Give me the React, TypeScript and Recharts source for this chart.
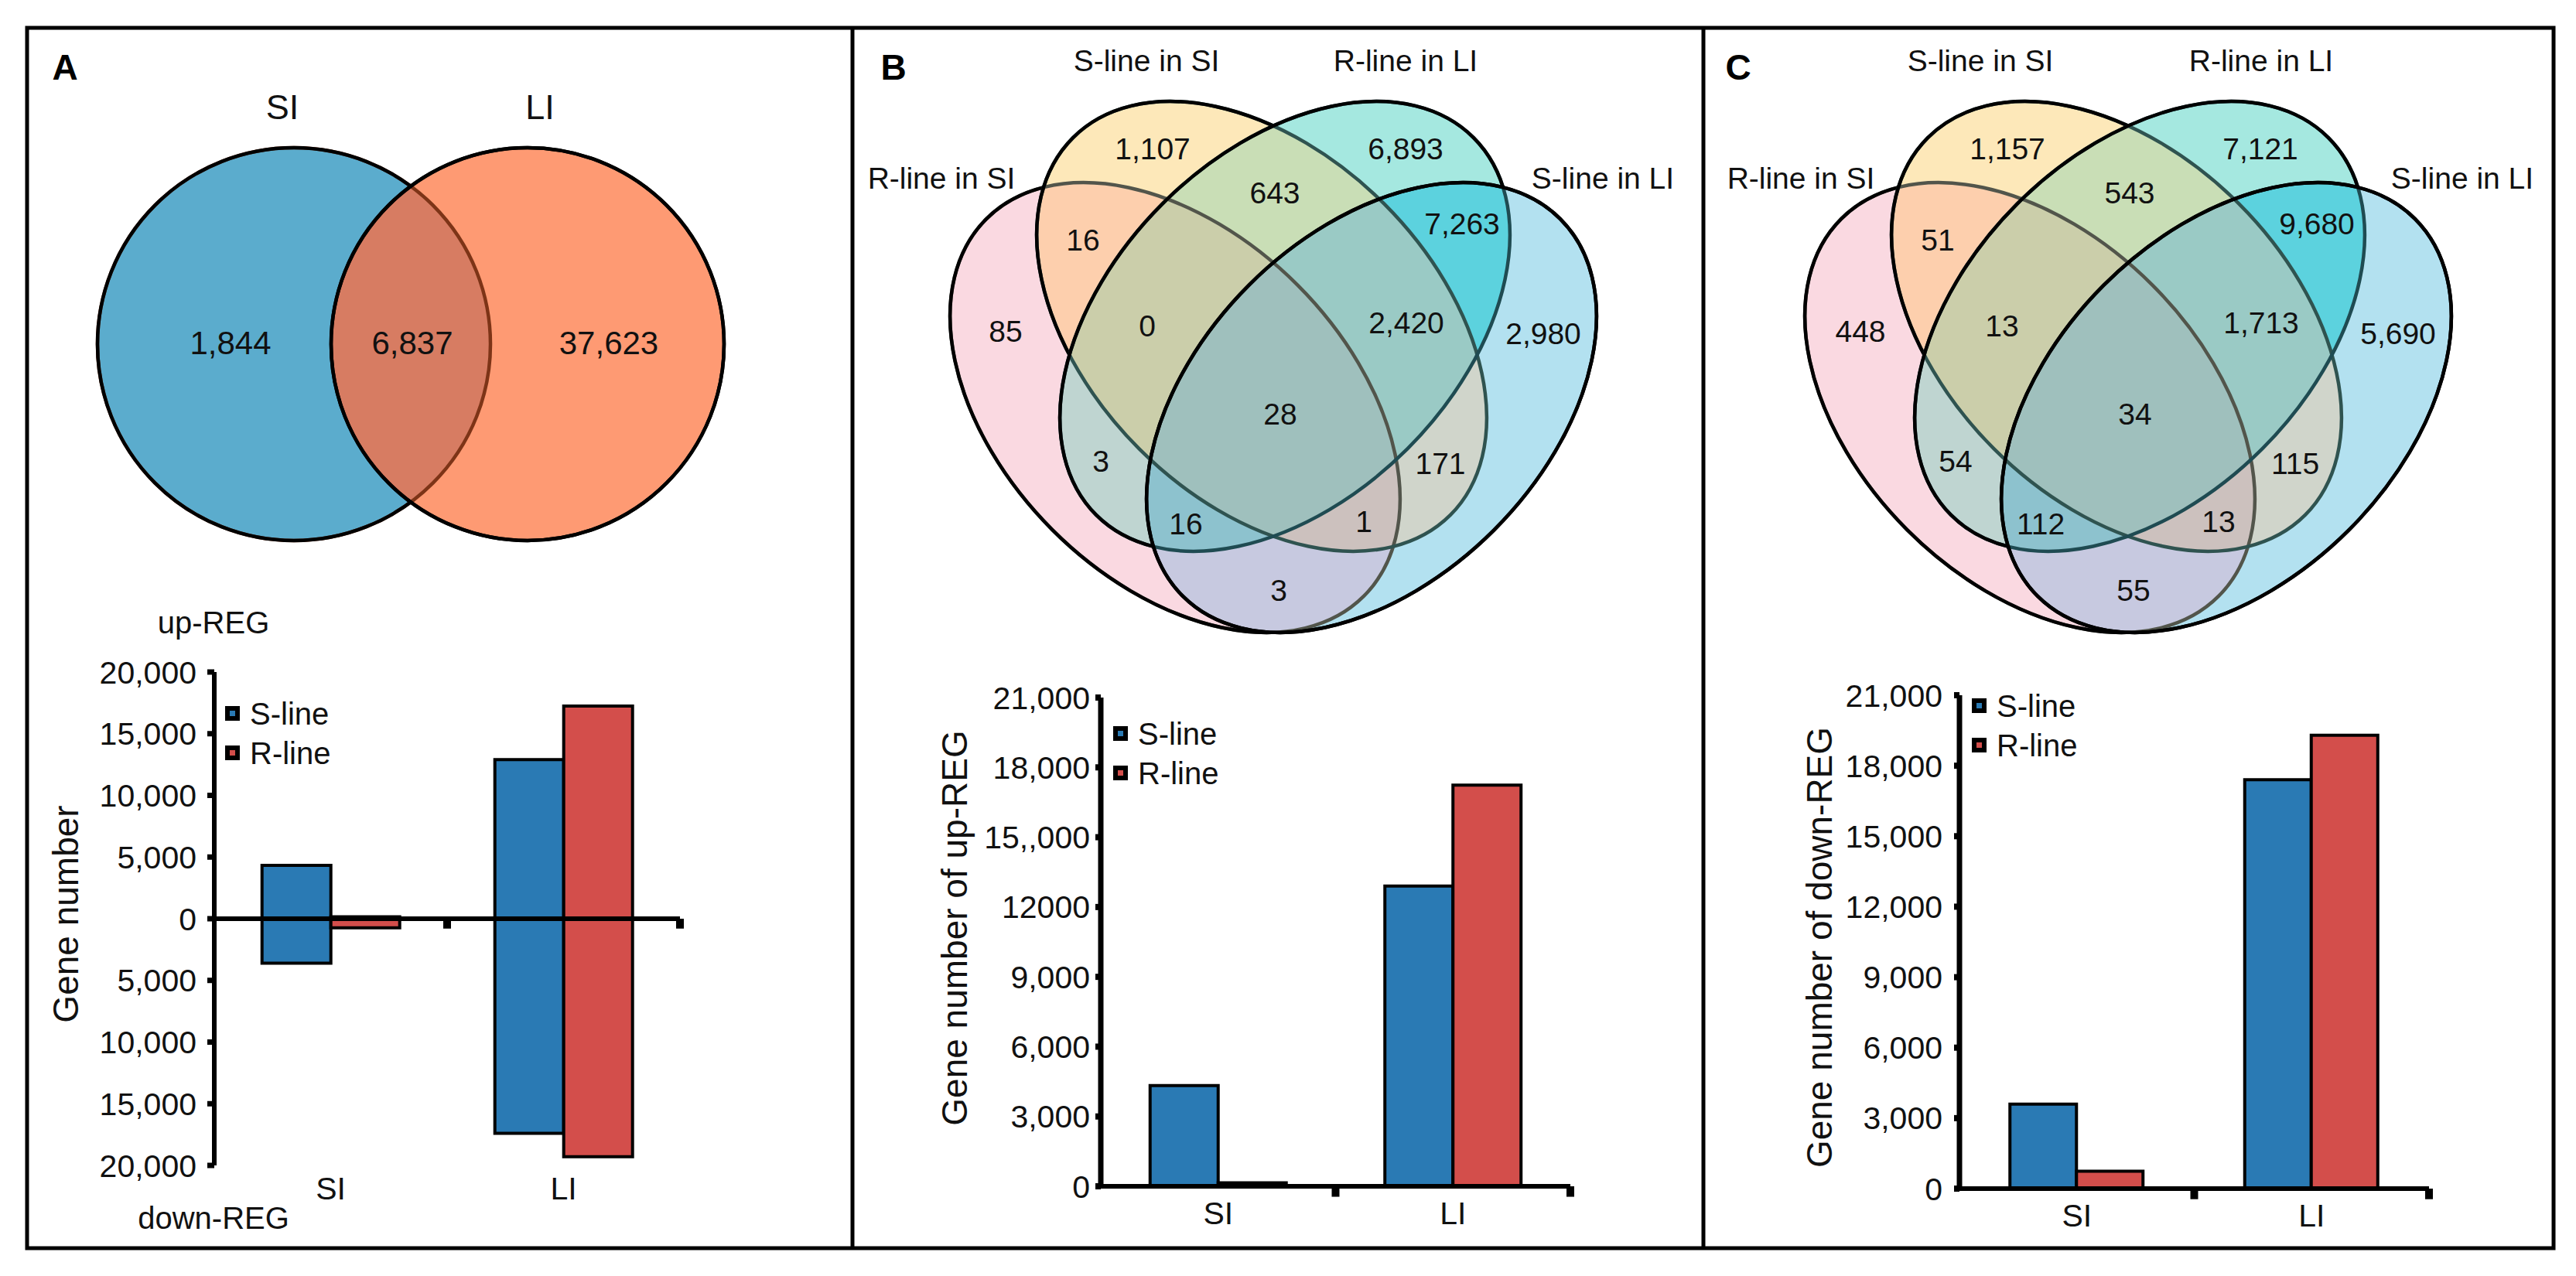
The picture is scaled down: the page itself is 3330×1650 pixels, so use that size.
import React from 'react';
import {
  BarChart,
  Bar,
  XAxis,
  YAxis,
  ReferenceLine,
  Legend,
  ScatterChart,
  Scatter,
} from 'recharts';

const FONT = "'Liberation Sans', Arial, Helvetica, sans-serif";
const INK = '#111';
const BLUE = '#2A7AB4';
const RED = '#D34E4B';

// ---- data ----
const CATEGORIES = ['SI', 'LI'];
const SERIES = ['S-line', 'R-line'];
const UP_S_LINE = [4330, 12900];
const UP_R_LINE = [150, 17240];
const DOWN_S_LINE = [3600, 17400];
const DOWN_R_LINE = [740, 19300];

const A_TICKS = [-20000, -15000, -10000, -5000, 0, 5000, 10000, 15000, 20000];
const BC_TICKS = [0, 3000, 6000, 9000, 12000, 15000, 18000, 21000];
// labels exactly as printed (including the typos of panel B)
const UP_TICK_LABELS = ['0', '3,000', '6,000', '9,000', '12000', '15,,000', '18,000', '21,000'];
const DOWN_TICK_LABELS = ['0', '3,000', '6,000', '9,000', '12,000', '15,000', '18,000', '21,000'];

const VENN2_SETS = ['SI', 'LI'];
// SI only, SI & LI, LI only
const VENN2_COUNTS = [1844, 6837, 37623];

const VENN4_SETS = ['R-line in SI', 'S-line in SI', 'R-line in LI', 'S-line in LI'];
// region order: R-SI only, S-SI only, R-LI only, S-LI only, RSI&SSI, SSI&RLI, RLI&SLI,
// RSI&SSI&RLI, SSI&RLI&SLI, all four, RSI&RLI, SSI&SLI, RSI&RLI&SLI, RSI&SSI&SLI, RSI&SLI
const VENN4_UP = [85, 1107, 6893, 2980, 16, 643, 7263, 0, 2420, 28, 3, 171, 16, 1, 3];
const VENN4_DOWN = [448, 1157, 7121, 5690, 51, 543, 9680, 13, 1713, 34, 54, 115, 112, 13, 55];

// ---- venn layout (chart units = pixels of the venn box) ----
const VENN2_W = 1065;
const VENN2_H = 740;
const VENN2_SHAPES = [
  { x: 345, y: 411, rx: 254, ry: 254, angle: 0, tint: '#7d3417' },
  { x: 647, y: 411, rx: 254, ry: 254, angle: 0, tint: '#000' },
];
const VENN2_REGIONS = [
  { sets: [0], color: '#5BACCD' },
  { sets: [0, 1], color: '#D77C62' },
  { sets: [1], color: '#FE9A73' },
];
const VENN2_COUNT_POS = [[263, 409], [498, 409], [752, 409]];
const VENN2_SET_POS = [[330, 104], [663, 104]];

const VENN4_W = 1100;
const VENN4_H = 866;
const VENN4_SHAPES = [
  { x: 419, y: 493, rx: 345, ry: 224, angle: 45, tint: '#52554b' },
  { x: 531, y: 388, rx: 345, ry: 224, angle: 45, tint: '#2f5350' },
  { x: 561, y: 388, rx: 345, ry: 224, angle: -45, tint: '#1f4b52' },
  { x: 673, y: 493, rx: 345, ry: 224, angle: -45, tint: '#000' },
];
const VENN4_REGIONS = [
  { sets: [0], color: '#FAD9E1' },
  { sets: [1], color: '#FDE8B9' },
  { sets: [2], color: '#A5E8E0' },
  { sets: [3], color: '#B3E1F0' },
  { sets: [0, 1], color: '#FDCFAD' },
  { sets: [1, 2], color: '#C9DEB6' },
  { sets: [2, 3], color: '#5CD2DE' },
  { sets: [0, 1, 2], color: '#CBCEAA' },
  { sets: [1, 2, 3], color: '#9ACAC5' },
  { sets: [0, 1, 2, 3], color: '#9FC0BD' },
  { sets: [0, 2], color: '#BFD5D1' },
  { sets: [1, 3], color: '#D0D5CB' },
  { sets: [0, 2, 3], color: '#8DC2CE' },
  { sets: [0, 1, 3], color: '#CCC1BE' },
  { sets: [0, 3], color: '#C7C9E0' },
];
const VENN4_COUNT_POS = [
  [200, 394], [390, 158], [717, 158], [895, 397], [300, 276], [548, 215], [790, 255],
  [383, 387], [718, 383], [555, 501], [323, 562], [762, 565], [433, 643], [663, 640], [553, 729],
];
const VENN4_SET_POS_B = [[117, 196], [382, 44], [717, 44], [972, 196]];
const VENN4_SET_POS_C = [[123, 196], [355, 44], [718, 44], [978, 196]];

const fmt = (v: number) => v.toLocaleString('en-US');

const ellipseAt = (cx: number, cy: number, p: any, extra: any) => (
  <ellipse cx={cx} cy={cy} rx={p.rx} ry={p.ry} transform={`rotate(${p.angle} ${cx} ${cy})`} {...extra} />
);

// clip (inside) and mask (outside) for every set, positioned by the chart scales
const defsShape = (id: string) => (props: any) => {
  const { cx, cy, payload } = props;
  if (cx == null || cy == null) return <g />;
  return (
    <defs>
      <clipPath id={`${id}-in${payload.idx}`}>{ellipseAt(cx, cy, payload, {})}</clipPath>
      <mask id={`${id}-out${payload.idx}`} maskUnits="userSpaceOnUse" x={-5000} y={-5000} width={10000} height={10000}>
        <rect x={-5000} y={-5000} width={10000} height={10000} fill="#fff" />
        {ellipseAt(cx, cy, payload, { fill: '#000' })}
      </mask>
    </defs>
  );
};

const regionShape = (id: string, n: number) => (props: any) => {
  const { cx, cy, payload } = props;
  if (cx == null || cy == null) return <g />;
  let node = <rect x={cx - 3000} y={cy - 3000} width={6000} height={6000} fill={payload.color} />;
  for (let i = 0; i < n; i++) {
    node = payload.sets.includes(i) ? (
      <g clipPath={`url(#${id}-in${i})`}>{node}</g>
    ) : (
      <g mask={`url(#${id}-out${i})`}>{node}</g>
    );
  }
  return node;
};

const outlineShape = (id: string, n: number) => (props: any) => {
  const { cx, cy, payload } = props;
  if (cx == null || cy == null) return <g />;
  const line = { fill: 'none', strokeWidth: 4.5 };
  let black = ellipseAt(cx, cy, payload, { ...line, stroke: '#000' });
  for (let j = payload.idx + 1; j < n; j++) {
    black = <g mask={`url(#${id}-out${j})`}>{black}</g>;
  }
  return (
    <g>
      {ellipseAt(cx, cy, payload, { ...line, stroke: payload.tint })}
      {black}
    </g>
  );
};

const textShape = (size: number) => (props: any) => (
  <text x={props.cx} y={props.cy} dy="0.36em" textAnchor="middle" fontSize={size} fontFamily={FONT} fill={INK}>
    {props.payload.label}
  </text>
);

function Venn({
  id, left, width, height, shapes, regions, counts, countPos, sets, setPos, countSize, setSize,
}: {
  id: string; left: number; width: number; height: number; shapes: any[]; regions: any[];
  counts: number[]; countPos: number[][]; sets: string[]; setPos: number[][];
  countSize: number; setSize: number;
}) {
  const n = shapes.length;
  const shapeData = shapes.map((s, idx) => ({ ...s, idx }));
  const regionData = regions.map((r, i) => ({ ...r, x: countPos[i][0], y: countPos[i][1] }));
  const countData = counts.map((v, i) => ({ x: countPos[i][0], y: countPos[i][1], label: fmt(v) }));
  const setData = sets.map((s, i) => ({ x: setPos[i][0], y: setPos[i][1], label: s }));
  return (
    <div style={{ position: 'absolute', left, top: 34 }}>
      <ScatterChart width={width} height={height} margin={{ top: 0, right: 0, bottom: 0, left: 0 }}>
        <XAxis type="number" dataKey="x" domain={[0, width]} allowDataOverflow hide />
        <YAxis type="number" dataKey="y" domain={[0, height]} allowDataOverflow reversed hide />
        <Scatter data={shapeData} shape={defsShape(id)} isAnimationActive={false} />
        <Scatter data={regionData} shape={regionShape(id, n)} isAnimationActive={false} />
        <Scatter data={shapeData} shape={outlineShape(id, n)} isAnimationActive={false} />
        <Scatter data={countData} shape={textShape(countSize)} isAnimationActive={false} />
        <Scatter data={setData} shape={textShape(setSize)} isAnimationActive={false} />
      </ScatterChart>
    </div>
  );
}

const renderLegend = (props: any) => {
  const items = (props.payload || [])
    .filter((p: any) => p.type !== 'none')
    .sort((a: any, b: any) => SERIES.indexOf(a.value) - SERIES.indexOf(b.value));
  return (
    <div style={{ fontFamily: FONT, fontSize: 40, color: INK }}>
      {items.map((p: any) => (
        <div key={p.value} style={{ display: 'flex', alignItems: 'center', height: 51 }}>
          <span
            style={{
              width: 19, height: 19, background: '#000', display: 'flex',
              alignItems: 'center', justifyContent: 'center', marginRight: 13,
            }}
          >
            <span style={{ width: 7, height: 7, background: p.color }} />
          </span>
          <span style={{ lineHeight: 1 }}>{p.value}</span>
        </div>
      ))}
    </div>
  );
};

const tickStyle = { fontSize: 41, fill: INK, fontFamily: FONT };

function BarsA() {
  const table = CATEGORIES.map((c, i) => ({
    cat: c,
    upS: UP_S_LINE[i],
    downS: -DOWN_S_LINE[i],
    upR: UP_R_LINE[i],
    downR: -DOWN_R_LINE[i],
  }));
  return (
    <div style={{ position: 'absolute', left: 100, top: 820 }}>
      <BarChart
        width={800}
        height={747}
        data={table}
        margin={{ top: 49, right: 21, bottom: 0, left: 0 }}
        stackOffset="sign"
        barGap={0}
        barCategoryGap="20.5%"
      >
        <XAxis dataKey="cat" axisLine={false} tickLine={false} tickSize={6} tickMargin={9} height={60} tick={tickStyle} />
        <YAxis
          width={177}
          domain={[-20000, 20000]}
          ticks={A_TICKS}
          interval={0}
          allowDataOverflow
          tickFormatter={(v: number) => fmt(Math.abs(v))}
          axisLine={{ stroke: '#000', strokeWidth: 6 }}
          tickLine={{ stroke: '#000', strokeWidth: 7 }}
          tickSize={9}
          tickMargin={14}
          tick={tickStyle}
        />
        <Bar dataKey="upS" name={SERIES[0]} stackId="S" fill={BLUE} stroke="#000" strokeWidth={4} isAnimationActive={false} />
        <Bar dataKey="downS" stackId="S" legendType="none" fill={BLUE} stroke="#000" strokeWidth={4} isAnimationActive={false} />
        <Bar dataKey="upR" name={SERIES[1]} stackId="R" fill={RED} stroke="#000" strokeWidth={4} isAnimationActive={false} />
        <Bar dataKey="downR" stackId="R" legendType="none" fill={RED} stroke="#000" strokeWidth={4} isAnimationActive={false} />
        <ReferenceLine y={0} stroke="#000" strokeWidth={6} />
        <ReferenceLine position="start" segment={[{ x: 'LI', y: 0 }, { x: 'LI', y: -800 }]} stroke="#000" strokeWidth={10} />
        <ReferenceLine position="end" segment={[{ x: 'LI', y: 0 }, { x: 'LI', y: -800 }]} stroke="#000" strokeWidth={10} />
        <Legend layout="vertical" align="center" verticalAlign="middle" wrapperStyle={{ left: 191, top: 77 }} content={renderLegend} />
      </BarChart>
    </div>
  );
}

function BarsUpDown({
  left, top, height, sValues, rValues, tickLabels, gap, legendTop, labelMargin,
}: {
  left: number; top: number; height: number; sValues: number[]; rValues: number[];
  tickLabels: string[]; gap: string; legendTop: number; labelMargin: number;
}) {
  const table = CATEGORIES.map((c, i) => ({ cat: c, s: sValues[i], r: rValues[i] }));
  return (
    <div style={{ position: 'absolute', left, top }}>
      <BarChart
        width={910}
        height={height}
        data={table}
        margin={{ top: 42, right: 30, bottom: 0, left: 0 }}
        barGap={0}
        barCategoryGap={gap}
      >
        <XAxis
          dataKey="cat"
          axisLine={{ stroke: '#000', strokeWidth: 6 }}
          tickLine={false}
          tickSize={6}
          tickMargin={14}
          height={70}
          tick={tickStyle}
        />
        <YAxis
          width={273}
          domain={[0, 21000]}
          ticks={BC_TICKS}
          interval={0}
          allowDataOverflow
          tickFormatter={(v: number) => tickLabels[BC_TICKS.indexOf(v)]}
          axisLine={{ stroke: '#000', strokeWidth: 7 }}
          tickLine={{ stroke: '#000', strokeWidth: 8 }}
          tickSize={7}
          tickMargin={labelMargin}
          tick={tickStyle}
        />
        <Bar dataKey="s" name={SERIES[0]} fill={BLUE} stroke="#000" strokeWidth={4} isAnimationActive={false} />
        <Bar dataKey="r" name={SERIES[1]} fill={RED} stroke="#000" strokeWidth={4} isAnimationActive={false} />
        <ReferenceLine position="start" ifOverflow="visible" segment={[{ x: 'LI', y: 0 }, { x: 'LI', y: -450 }]} stroke="#000" strokeWidth={10} />
        <ReferenceLine position="end" ifOverflow="visible" segment={[{ x: 'LI', y: 0 }, { x: 'LI', y: -450 }]} stroke="#000" strokeWidth={10} />
        <Legend layout="vertical" align="center" verticalAlign="middle" wrapperStyle={{ left: 289, top: legendTop }} content={renderLegend} />
      </BarChart>
    </div>
  );
}

function Overlay() {
  const letters = [['A', 84], ['B', 1155], ['C', 2247]] as const;
  const yTitles = [
    ['Gene number', 84, 1182],
    ['Gene number of up-REG', 1233, 1200],
    ['Gene number of down-REG', 2351, 1225],
  ] as const;
  return (
    <svg
      width={3330}
      height={1650}
      style={{ position: 'absolute', left: 0, top: 0, pointerEvents: 'none' }}
      fontFamily={FONT}
    >
      <rect x={35} y={36} width={3266} height={1578} fill="none" stroke="#000" strokeWidth={5} />
      <line x1={1102} y1={36} x2={1102} y2={1614} stroke="#000" strokeWidth={5} />
      <line x1={2202} y1={36} x2={2202} y2={1614} stroke="#000" strokeWidth={5} />
      {letters.map(([t, x]) => (
        <text key={t} x={x} y={86} dy="0.36em" textAnchor="middle" fontSize={46} fontWeight="bold" fill="#000">
          {t}
        </text>
      ))}
      {yTitles.map(([t, x, y]) => (
        <text
          key={t}
          x={x}
          y={y}
          dy="0.36em"
          textAnchor="middle"
          fontSize={46}
          fill={INK}
          transform={`rotate(-90 ${x} ${y})`}
        >
          {t}
        </text>
      ))}
      <text x={276} y={805} dy="0.36em" textAnchor="middle" fontSize={40} fill={INK}>up-REG</text>
      <text x={276} y={1575} dy="0.36em" textAnchor="middle" fontSize={40} fill={INK}>down-REG</text>
    </svg>
  );
}

export default function App() {
  return (
    <div
      style={{
        position: 'absolute', left: 0, top: 0, width: 3330, height: 1650,
        background: '#fff', fontFamily: FONT, overflow: 'hidden',
      }}
    >
      <Venn
        id="va"
        left={35}
        width={VENN2_W}
        height={VENN2_H}
        shapes={VENN2_SHAPES}
        regions={VENN2_REGIONS}
        counts={VENN2_COUNTS}
        countPos={VENN2_COUNT_POS}
        sets={VENN2_SETS}
        setPos={VENN2_SET_POS}
        countSize={42}
        setSize={45}
      />
      <Venn
        id="vb"
        left={1100}
        width={VENN4_W}
        height={VENN4_H}
        shapes={VENN4_SHAPES}
        regions={VENN4_REGIONS}
        counts={VENN4_UP}
        countPos={VENN4_COUNT_POS}
        sets={VENN4_SETS}
        setPos={VENN4_SET_POS_B}
        countSize={39}
        setSize={39}
      />
      <Venn
        id="vc"
        left={2205}
        width={VENN4_W}
        height={VENN4_H}
        shapes={VENN4_SHAPES}
        regions={VENN4_REGIONS}
        counts={VENN4_DOWN}
        countPos={VENN4_COUNT_POS}
        sets={VENN4_SETS}
        setPos={VENN4_SET_POS_C}
        countSize={39}
        setSize={39}
      />
      <BarsA />
      <BarsUpDown
        left={1150}
        top={860}
        height={744}
        sValues={UP_S_LINE}
        rValues={UP_R_LINE}
        tickLabels={UP_TICK_LABELS}
        gap="21%"
        legendTop={63}
        labelMargin={7}
      />
      <BarsUpDown
        left={2260}
        top={857}
        height={750}
        sValues={DOWN_S_LINE}
        rValues={DOWN_R_LINE}
        tickLabels={DOWN_TICK_LABELS}
        gap="21.5%"
        legendTop={30}
        labelMargin={15}
      />
      <Overlay />
    </div>
  );
}
